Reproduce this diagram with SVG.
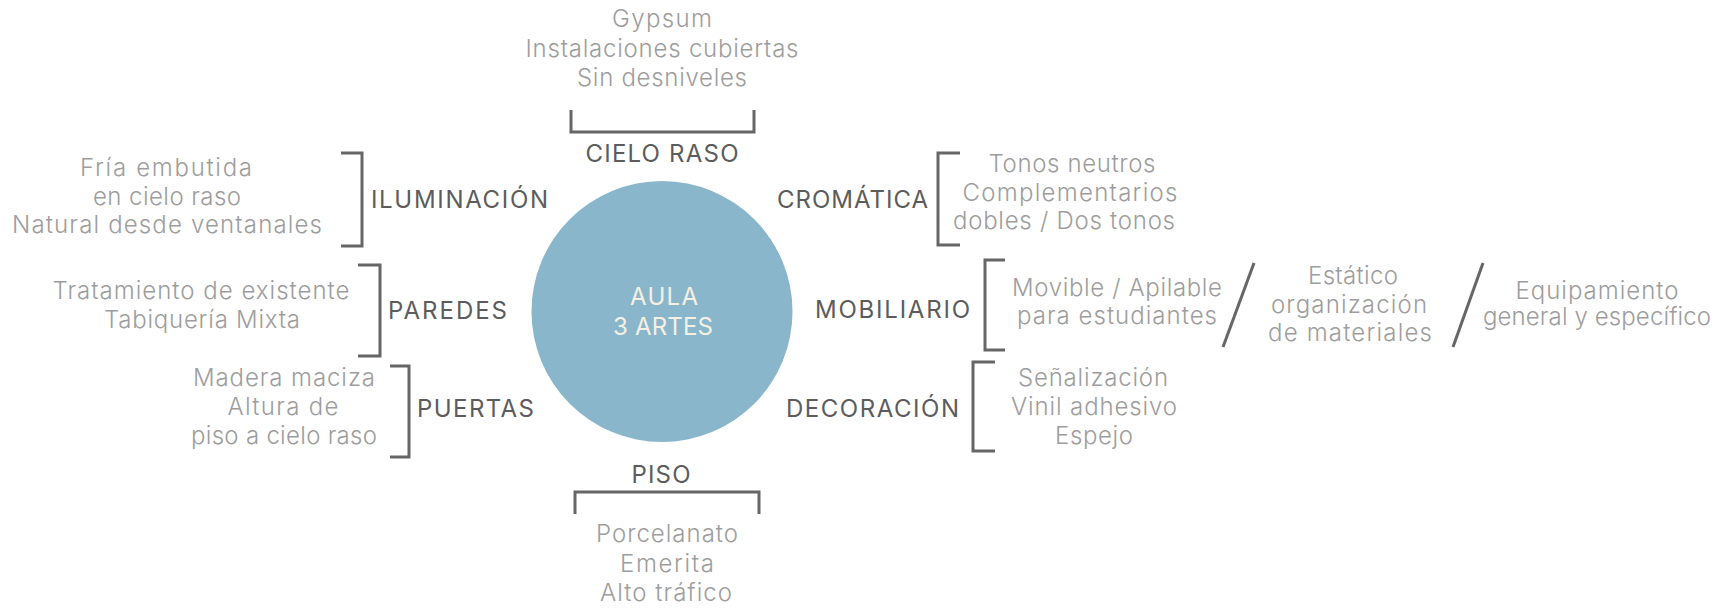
<svg xmlns="http://www.w3.org/2000/svg" width="1729" height="608" viewBox="0 0 1729 608">
<style>
.bg{fill:#ffffff}
.item{font-family:"Inter","Open Sans","Liberation Sans",sans-serif;font-weight:300;font-size:24px;fill:#9d9d9d;text-anchor:middle}
.lbl{font-family:"Inter","Open Sans","Liberation Sans",sans-serif;font-weight:400;font-size:24px;fill:#5c5c5c}
.mid{text-anchor:middle}
.br{fill:none;stroke:#666666;stroke-width:3}
.center{fill:#89b6cb}
.ctext{font-family:"Inter","Open Sans","Liberation Sans",sans-serif;font-weight:400;font-size:24px;fill:#f6f0e2;text-anchor:middle}
</style>
<rect class="bg" x="0" y="0" width="1729" height="608"/>
<g id="connectors">
<path class="br" d="M571,110 V132 H754 V110"/>
<path class="br" d="M341,153 H362 V246 H341"/>
<path class="br" d="M358,265 H380 V356 H358"/>
<path class="br" d="M390,366 H409 V457 H390"/>
<path class="br" d="M960,153 H938 V245 H960"/>
<path class="br" d="M1005,260 H985 V350 H1005"/>
<path class="br" d="M995,362 H973 V451 H995"/>
<path class="br" d="M575,514 V492 H759 V514"/>
<path class="br" d="M1254,263 L1223,347"/>
<path class="br" d="M1483,263 L1453,347"/>
</g>
<g id="aula">
<circle class="center" cx="662" cy="311.5" r="130.5"/>
<text class="ctext" x="664" y="305" textLength="68">AULA</text>
<text class="ctext" x="663" y="335" textLength="100">3 ARTES</text>
</g>
<g id="cielo-raso">
<text class="item" x="662" y="27" textLength="100">Gypsum</text>
<text class="item" x="662" y="57" textLength="273">Instalaciones cubiertas</text>
<text class="item" x="662" y="86" textLength="170">Sin desniveles</text>
<text class="lbl mid" x="662" y="162" textLength="153">CIELO RASO</text>
</g>
<g id="iluminacion">
<text class="item" x="166" y="176" textLength="172">Fría embutida</text>
<text class="item" x="167" y="205" textLength="148">en cielo raso</text>
<text class="item" x="167" y="233" textLength="310">Natural desde ventanales</text>
<text class="lbl" x="371" y="208" textLength="177">ILUMINACIÓN</text>
</g>
<g id="paredes">
<text class="item" x="201" y="299" textLength="297">Tratamiento de existente</text>
<text class="item" x="202" y="328" textLength="196">Tabiquería Mixta</text>
<text class="lbl" x="388" y="319" textLength="119">PAREDES</text>
</g>
<g id="puertas">
<text class="item" x="284" y="386" textLength="182">Madera maciza</text>
<text class="item" x="283" y="415" textLength="111">Altura de</text>
<text class="item" x="284" y="444" textLength="186">piso a cielo raso</text>
<text class="lbl" x="417" y="417" textLength="117">PUERTAS</text>
</g>
<g id="cromatica">
<text class="lbl" x="777" y="208" textLength="151">CROMÁTICA</text>
<text class="item" x="1072" y="172" textLength="167">Tonos neutros</text>
<text class="item" x="1070" y="201" textLength="215">Complementarios</text>
<text class="item" x="1064" y="229" textLength="222">dobles / Dos tonos</text>
</g>
<g id="mobiliario">
<text class="lbl" x="815" y="318" textLength="155">MOBILIARIO</text>
<text class="item" x="1117" y="296" textLength="210">Movible / Apilable</text>
<text class="item" x="1117" y="324" textLength="200">para estudiantes</text>
<text class="item" x="1353" y="284" textLength="90">Estático</text>
<text class="item" x="1349" y="313" textLength="156">organización</text>
<text class="item" x="1350" y="341" textLength="164">de materiales</text>
<text class="item" x="1597" y="299" textLength="163">Equipamiento</text>
<text class="item" x="1597" y="325" textLength="228">general y específico</text>
</g>
<g id="decoracion">
<text class="lbl" x="786" y="417" textLength="173">DECORACIÓN</text>
<text class="item" x="1093" y="386" textLength="150">Señalización</text>
<text class="item" x="1094" y="415" textLength="166">Vinil adhesivo</text>
<text class="item" x="1094" y="444" textLength="78">Espejo</text>
</g>
<g id="piso">
<text class="lbl mid" x="661" y="483" textLength="59">PISO</text>
<text class="item" x="667" y="542" textLength="142">Porcelanato</text>
<text class="item" x="667" y="572" textLength="94">Emerita</text>
<text class="item" x="666" y="601" textLength="132">Alto tráfico</text>
</g>
</svg>
